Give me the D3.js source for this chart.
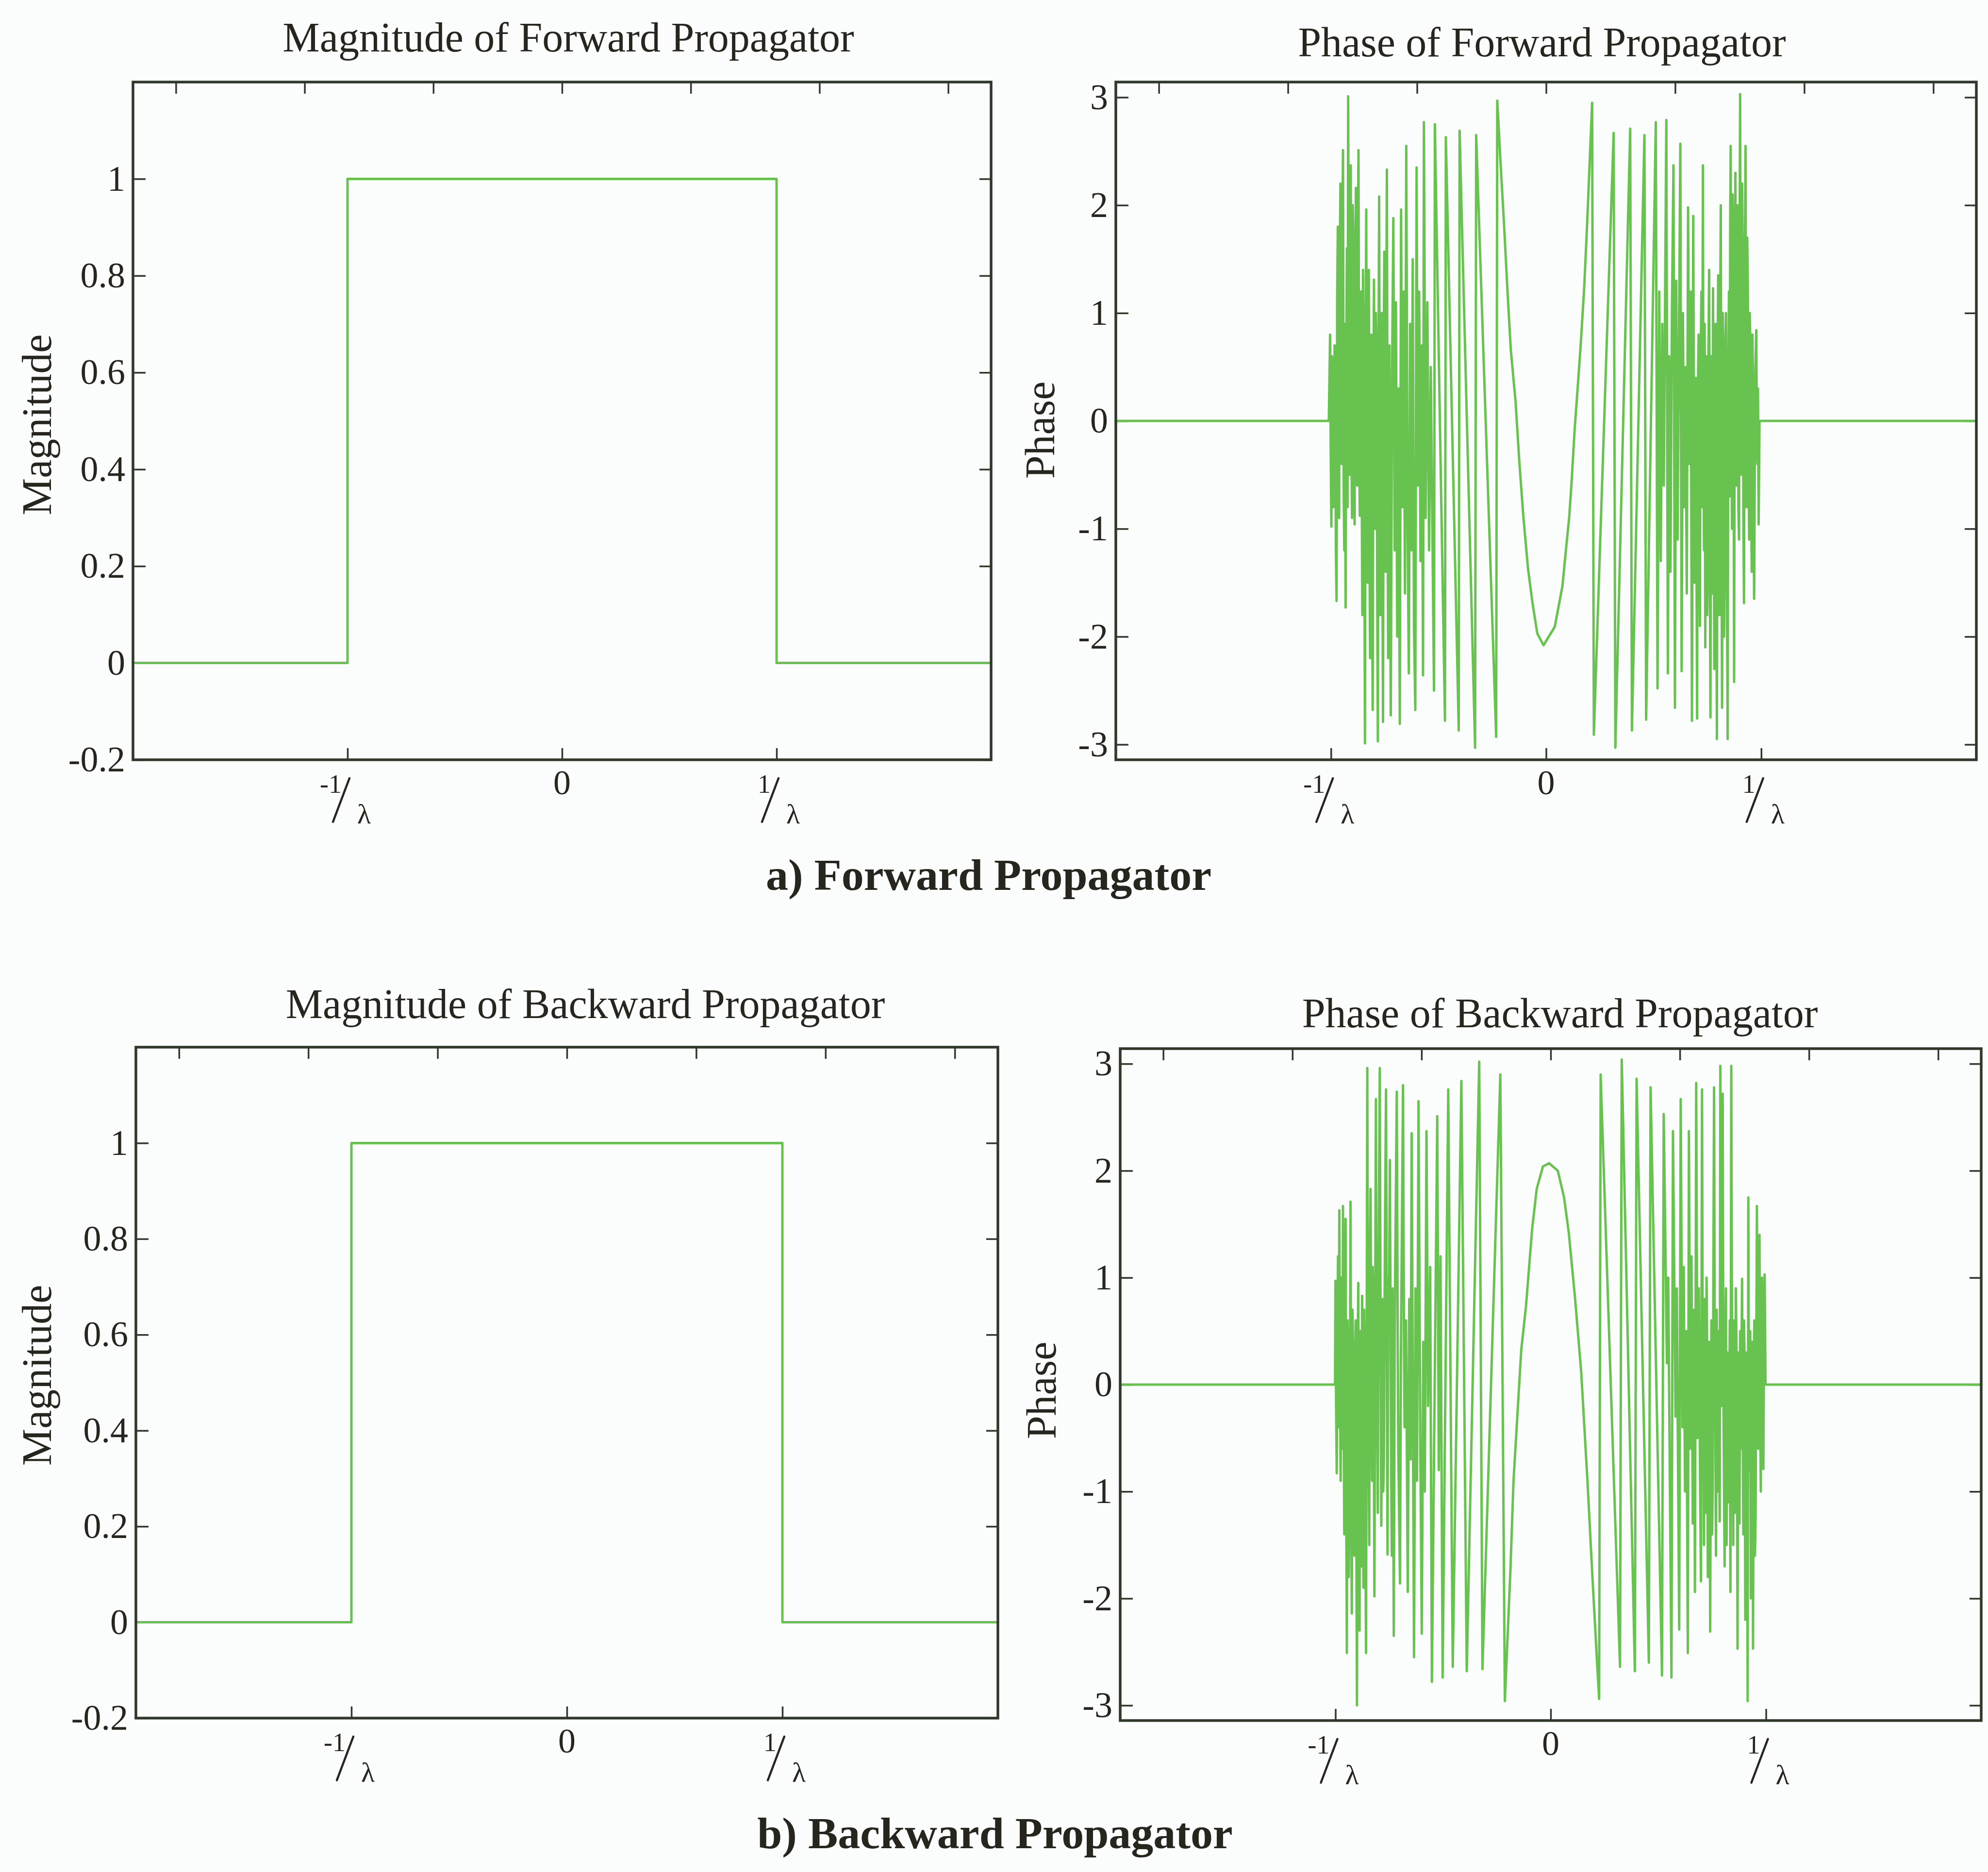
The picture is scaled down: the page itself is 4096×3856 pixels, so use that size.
<!DOCTYPE html>
<html>
<head>
<meta charset="utf-8">
<script src="https://cdn.jsdelivr.net/npm/d3@7/dist/d3.min.js"></script>
<style>
  html, body { margin: 0; padding: 0; background: #fbfcfc; }
  svg { display: block; }
  .frame { fill: none; stroke: #2f382a; stroke-width: 5.5; }
  .ticks line { stroke: #2f382a; stroke-width: 3.5; }
  .ticks path { display: none; }
  .trace { fill: none; stroke: #68c24f; stroke-width: 5; stroke-linejoin: round; stroke-linecap: round; }
  .slash { stroke: #26261f; stroke-width: 4.5; stroke-linecap: round; }
  text { font-family: "Liberation Serif", "Times New Roman", serif; fill: #26261f; }
</style>
</head>
<body>
<script>
// ---- data ----
var panelTitles = ['Magnitude of Forward Propagator', 'Phase of Forward Propagator',
                   'Magnitude of Backward Propagator', 'Phase of Backward Propagator'];
var captions = ['a) Forward Propagator', 'b) Backward Propagator'];

var xTicksBottom = [-1, 0, 1];
var xTickLabels = ['-1/λ', '0', '1/λ'];
var xTicksTop = [-1.8, -1.2, -0.6, 0, 0.6, 1.2, 1.8];
var magTicks = [-0.2, 0, 0.2, 0.4, 0.6, 0.8, 1];
var phaseTicks = [-3, -2, -1, 0, 1, 2, 3];

// magnitude: step, unity inside |f| < 1/lambda
var magFreq = [-2, -1, -1, 1, 1, 2];
var fwdMagnitude = [0, 0, 1, 1, 0, 0];
var bwdMagnitude = [0, 0, 1, 1, 0, 0];

// phase vertices [spatial frequency (units of 1/lambda), phase (rad)]
var fwdPhase = [
  [-2.000,0.00],[-1.010,0.00],
  [-1.004,0.80],[-1.001,-0.30],[-0.998,-0.98],[-0.995,0.60],[-0.992,0.40],[-0.989,-0.80],[-0.986,-0.60],
  [-0.983,0.70],[-0.980,0.20],[-0.977,-1.20],[-0.974,-1.67],[-0.971,1.20],[-0.968,1.80],[-0.965,-0.30],
  [-0.962,-0.90],[-0.959,1.50],[-0.956,2.20],[-0.953,0.20],[-0.950,-0.40],[-0.947,1.80],[-0.944,2.51],
  [-0.941,-0.60],[-0.938,-1.20],[-0.935,0.90],[-0.932,-1.73],[-0.929,0.40],[-0.926,1.60],[-0.923,-0.80],
  [-0.920,3.01],[-0.917,0.80],[-0.914,-0.50],[-0.911,1.40],[-0.908,2.37],[-0.905,-0.20],[-0.902,-0.90],
  [-0.899,2.00],[-0.896,1.70],[-0.893,-0.40],[-0.890,-0.96],[-0.887,1.20],[-0.884,2.16],[-0.881,0.30],
  [-0.878,-0.60],[-0.875,1.60],[-0.872,2.51],[-0.869,-0.20],[-0.866,-0.88],[-0.863,0.60],[-0.860,1.20],
  [-0.857,-0.60],[-0.854,-1.80],[-0.851,1.40],[-0.848,0.90],[-0.845,-1.00],[-0.842,-2.99],[-0.839,0.20],
  [-0.836,1.96],[-0.833,-0.40],[-0.830,-1.50],[-0.827,0.50],[-0.824,1.40],[-0.821,-1.10],[-0.818,-2.20],
  [-0.815,0.30],[-0.812,0.80],[-0.809,-1.60],[-0.806,-2.68],[-0.803,0.10],[-0.800,1.31],[-0.797,-0.30],
  [-0.794,-1.00],[-0.791,1.00],[-0.788,0.60],[-0.785,-1.50],[-0.782,-2.97],[-0.779,0.40],[-0.776,2.08],
  [-0.773,-0.50],[-0.770,-1.80],[-0.767,0.20],[-0.764,1.00],[-0.761,-1.20],[-0.758,-2.79],[-0.755,0.60],
  [-0.752,1.57],[-0.749,-0.20],[-0.746,-1.40],[-0.743,0.80],[-0.740,2.33],[-0.737,-0.60],[-0.734,-2.20],
  [-0.731,0.10],[-0.728,0.70],[-0.725,-1.30],
  [-0.722,-2.73],[-0.716,0.40],[-0.710,1.88],[-0.704,-1.20],[-0.698,1.10],[-0.692,-2.00],
  [-0.686,0.30],[-0.680,-2.81],[-0.674,1.96],[-0.668,-0.80],[-0.662,1.20],[-0.656,-1.60],[-0.650,2.55],
  [-0.644,-0.90],[-0.638,-2.34],[-0.632,0.90],[-0.626,-1.20],[-0.620,1.50],[-0.614,-1.90],[-0.608,-2.68],
  [-0.602,2.35],[-0.596,-0.60],[-0.590,1.20],[-0.584,-1.30],[-0.578,0.70],[-0.572,-2.36],[-0.568,2.77],
  [-0.560,-0.90],[-0.552,1.10],[-0.544,-1.20],[-0.536,0.50],[-0.521,-2.50],[-0.517,2.75],
  [-0.470,-2.78],[-0.466,2.63],[-0.406,-2.87],[-0.402,2.69],[-0.330,-3.03],[-0.325,2.65],
  [-0.232,-2.93],[-0.227,2.97],
  [-0.211,2.37],[-0.196,1.84],[-0.178,1.15],[-0.164,0.66],[-0.142,0.18],[-0.124,-0.39],[-0.106,-0.88],
  [-0.084,-1.37],[-0.063,-1.69],[-0.041,-1.97],[-0.012,-2.08],
  [0.040,-1.91],[0.061,-1.69],[0.076,-1.53],[0.090,-1.24],[0.108,-0.88],[0.119,-0.55],[0.133,-0.07],
  [0.148,0.34],[0.162,0.74],[0.177,1.23],[0.191,1.84],[0.202,2.37],[0.214,2.95],
  [0.222,-2.91],[0.314,2.67],[0.322,-3.03],[0.391,2.71],[0.399,-2.87],[0.457,2.65],[0.465,-2.77],
  [0.510,2.77],[0.518,-2.48],
  [0.526,1.20],[0.533,-1.30],[0.540,0.90],[0.547,-0.60],[0.559,2.79],[0.566,-2.34],[0.572,0.60],
  [0.578,-1.40],[0.585,1.00],[0.592,2.37],[0.599,-2.66],[0.605,1.30],[0.611,-1.10],[0.617,0.50],
  [0.624,2.57],[0.630,-2.32],[0.636,1.00],[0.642,-0.80],[0.648,0.50],[0.654,-1.60],[0.660,1.98],
  [0.666,-0.40],[0.672,1.20],[0.678,-2.78],[0.684,1.90],[0.690,-1.50],[0.696,0.40],
  [0.702,-2.76],[0.705,0.20],[0.709,0.80],[0.712,-0.60],[0.715,-1.90],[0.718,0.40],[0.722,1.20],
  [0.725,-0.80],[0.729,2.37],[0.731,0.00],[0.734,-1.20],[0.737,0.90],[0.740,-2.10],[0.743,-0.40],
  [0.746,0.60],[0.749,-1.80],[0.752,-1.40],[0.755,0.70],[0.758,1.40],[0.761,-1.00],[0.764,-2.75],
  [0.767,0.60],[0.770,0.20],[0.773,-1.60],[0.776,1.23],[0.779,-0.30],[0.782,-2.30],[0.785,0.30],
  [0.788,0.90],[0.791,-1.20],[0.794,-2.95],[0.797,0.50],[0.800,1.35],[0.803,-0.60],[0.806,-1.80],
  [0.809,0.80],[0.812,2.00],[0.815,-0.90],[0.818,-2.66],[0.821,1.00],[0.824,0.40],[0.827,-2.00],
  [0.830,-1.50],[0.833,0.70],[0.836,1.00],[0.840,-1.20],
  [0.844,-2.95],[0.847,0.40],[0.850,1.20],[0.853,-0.70],[0.856,1.90],[0.858,2.55],[0.861,0.20],
  [0.864,-1.00],[0.867,2.10],[0.870,1.60],[0.872,-0.30],[0.874,-2.42],[0.877,1.00],[0.880,2.30],
  [0.883,0.50],[0.886,-0.60],[0.889,2.00],[0.892,1.80],[0.894,-0.80],[0.897,-1.10],[0.899,1.40],
  [0.902,3.03],[0.905,0.30],[0.908,-0.50],[0.911,2.20],[0.914,1.60],[0.917,-0.90],[0.920,-1.69],
  [0.923,1.00],[0.927,2.55],[0.929,0.10],[0.932,-0.80],[0.935,1.70],[0.938,1.20],[0.941,-0.40],
  [0.944,-1.10],[0.947,1.00],[0.950,0.60],[0.953,-0.70],[0.956,-1.40],[0.959,0.80],[0.962,0.30],
  [0.965,-0.90],[0.967,-1.65],[0.972,0.40],[0.977,0.84],[0.980,-0.20],[0.982,-0.40],[0.985,0.30],
  [0.988,-0.96],[0.992,0.00],[2.000,0.00]
];

var bwdPhase = [
  [-2.000,0.00],[-1.002,0.00],
  [-1.000,0.97],[-0.997,-0.20],[-0.994,-0.83],[-0.991,0.50],[-0.988,1.20],[-0.985,-0.40],[-0.982,1.63],
  [-0.979,0.10],[-0.976,-0.90],[-0.973,1.00],[-0.970,0.40],[-0.967,-0.60],[-0.965,1.67],[-0.962,-0.20],
  [-0.959,-1.40],[-0.956,0.70],[-0.953,1.55],[-0.950,-1.00],[-0.947,-2.51],[-0.944,0.60],[-0.941,0.20],
  [-0.938,-1.80],[-0.935,-1.20],[-0.932,0.40],[-0.930,1.71],[-0.927,-0.60],[-0.924,-2.14],[-0.921,0.70],
  [-0.918,0.30],[-0.915,-1.10],[-0.912,-1.60],[-0.909,0.10],[-0.906,0.60],[-0.903,-1.40],[-0.900,-3.00],
  [-0.897,0.20],[-0.894,0.95],[-0.891,-0.90],[-0.888,-2.30],[-0.885,0.50],[-0.882,-0.40],[-0.879,-1.70],
  [-0.876,0.83],[-0.873,-0.50],[-0.870,-1.90],[-0.867,0.70],[-0.864,0.20],[-0.861,-1.30],[-0.858,-2.51],
  [-0.852,2.96],[-0.849,0.20],[-0.846,-0.60],[-0.843,-1.50],[-0.840,1.20],[-0.837,1.83],[-0.833,-0.30],
  [-0.830,-0.90],[-0.827,1.10],[-0.824,0.70],[-0.821,-0.80],[-0.819,-1.98],[-0.815,0.90],[-0.812,2.67],
  [-0.809,0.10],[-0.806,-0.50],[-0.803,-1.20],[-0.800,1.00],[-0.794,2.96],[-0.790,0.20],[-0.787,-1.32],
  [-0.784,0.30],[-0.781,0.80],[-0.778,-1.00],[-0.775,-0.70],[-0.770,1.40],[-0.765,2.76],[-0.761,0.00],
  [-0.758,-1.59],[-0.755,1.00],[-0.752,0.50],[-0.747,2.10],[-0.744,0.30],[-0.741,-0.80],[-0.738,-1.60],
  [-0.735,0.90],[-0.729,-2.35],[-0.725,0.40],[-0.722,1.20],[-0.715,2.74],[-0.711,0.50],[-0.708,-0.60],
  [-0.700,-1.86],[-0.696,0.20],[-0.693,1.00],[-0.686,2.80],[-0.682,0.60],[-0.679,-0.40],[-0.672,0.60],
  [-0.664,-1.94],[-0.657,0.80],[-0.651,-0.70],[-0.646,2.35],[-0.640,-0.30],[-0.635,-2.55],[-0.628,0.90],
  [-0.621,-0.90],[-0.614,2.65],[-0.606,-0.50],[-0.599,-2.33],[-0.592,0.40],[-0.585,-1.00],[-0.577,2.37],
  [-0.570,-0.20],[-0.560,1.10],[-0.552,-2.78],[-0.527,2.51],[-0.520,-0.80],[-0.512,1.20],[-0.502,-2.74],
  [-0.476,2.76],[-0.455,-2.64],[-0.415,2.84],[-0.390,-2.68],[-0.332,3.02],[-0.317,-2.66],[-0.234,2.90],
  [-0.213,-2.96],
  [-0.187,-1.73],[-0.173,-0.91],[-0.137,0.32],[-0.115,0.73],[-0.086,1.46],[-0.065,1.83],[-0.036,2.04],
  [-0.007,2.07],
  [0.033,2.00],[0.062,1.75],[0.084,1.42],[0.113,0.81],[0.142,0.11],[0.171,-0.91],[0.192,-1.73],
  [0.214,-2.55],[0.225,-2.94],
  [0.232,2.90],[0.322,-2.64],[0.330,3.04],[0.391,-2.68],[0.399,2.86],[0.456,-2.60],[0.464,2.78],
  [0.517,-2.72],[0.525,2.53],[0.540,0.20],[0.546,1.00],[0.561,-2.74],[0.568,2.37],[0.580,-0.30],
  [0.586,0.90],[0.597,-2.29],[0.604,2.67],[0.612,-0.40],[0.618,1.10],[0.624,-1.00],[0.630,0.50],
  [0.637,-2.51],[0.642,2.37],[0.648,-0.60],[0.654,1.20],[0.660,-1.30],[0.666,0.70],[0.670,-1.94],
  [0.676,2.82],[0.682,-0.50],[0.688,0.90],[0.694,-0.90],[0.698,-1.84],
  [0.703,2.76],[0.706,0.40],[0.709,-0.30],[0.712,-1.50],[0.715,0.80],[0.718,0.10],[0.721,-1.20],
  [0.724,1.00],[0.727,0.30],[0.730,-1.80],[0.733,-0.60],[0.737,0.40],[0.741,-2.31],[0.744,-0.20],
  [0.747,0.60],[0.750,-1.40],[0.753,-0.80],[0.756,1.20],[0.759,2.78],[0.762,0.20],[0.765,-0.40],
  [0.768,-1.60],[0.771,0.70],[0.774,0.00],[0.777,-1.00],[0.781,0.50],[0.785,-1.28],[0.788,2.98],
  [0.791,0.40],[0.794,-0.20],[0.799,2.72],[0.802,0.00],[0.805,-0.90],[0.808,-1.70],[0.811,0.50],
  [0.814,0.90],[0.817,-1.50],[0.820,-0.40],[0.823,0.30],[0.826,-1.10],[0.829,-0.70],[0.832,0.60],
  [0.835,-1.94],[0.839,2.98],[0.842,0.50],[0.845,-0.30],[0.848,-1.50],[0.851,0.60],[0.854,0.20],
  [0.857,-1.20],[0.860,0.90],[0.863,0.40],[0.866,-1.00],[0.868,-2.47],[0.871,0.30],[0.874,-0.20],
  [0.877,-1.30],[0.880,0.50],[0.884,-0.60],[0.889,0.99],[0.892,-0.40],[0.895,-1.40],[0.898,0.60],
  [0.901,0.20],[0.904,-2.20],[0.907,-1.80],[0.911,0.30],[0.915,-2.96],[0.918,1.75],[0.921,-0.20],
  [0.924,-0.80],[0.927,0.50],[0.930,-2.00],[0.933,-0.50],[0.936,0.40],[0.940,-2.47],[0.943,0.20],
  [0.946,0.60],[0.949,-1.60],[0.952,-1.20],[0.955,0.30],[0.958,1.67],[0.961,-0.30],[0.964,-0.60],
  [0.967,0.90],[0.970,1.40],[0.973,-0.20],[0.976,-1.00],[0.979,0.50],[0.982,1.00],[0.985,-0.30],
  [0.988,-0.79],[0.991,0.40],[0.994,1.03],[0.998,0.00],[2.000,0.00]
];

// ---- layout ----
var W = 4096, H = 3856;
var tickLen = 24;

var svg = d3.select('body').append('svg')
    .attr('width', W)
    .attr('height', H);

svg.append('rect').attr('width', W).attr('height', H).attr('fill', '#fbfcfc');

var panels = [
  { title: panelTitles[0], tx: 1171, ty: 106, ylab: 'Magnitude', ylx: 105, yly: 875,
    left: 274, right: 2042, top: 169, bottom: 1565, yDomain: [-0.2, 1.2], yTicks: magTicks,
    data: d3.zip(magFreq, fwdMagnitude) },
  { title: panelTitles[1], tx: 3177, ty: 116, ylab: 'Phase', ylx: 2172, yly: 886,
    left: 2299, right: 4072, top: 169, bottom: 1565, yDomain: [-Math.PI, Math.PI], yTicks: phaseTicks,
    data: fwdPhase },
  { title: panelTitles[2], tx: 1206, ty: 2097, ylab: 'Magnitude', ylx: 105, yly: 2833,
    left: 280, right: 2056, top: 2157, bottom: 3539, yDomain: [-0.2, 1.2], yTicks: magTicks,
    data: d3.zip(magFreq, bwdMagnitude) },
  { title: panelTitles[3], tx: 3214, ty: 2116, ylab: 'Phase', ylx: 2175, yly: 2864,
    left: 2308, right: 4082, top: 2160, bottom: 3544, yDomain: [-Math.PI, Math.PI], yTicks: phaseTicks,
    data: bwdPhase }
];

function fmt(d) {
  return d === 0 ? '0' : String(+d.toFixed(1));
}

panels.forEach(function(p) {
  var g = svg.append('g');

  var x = d3.scaleLinear().domain([-2, 2]).range([p.left, p.right]);
  var y = d3.scaleLinear().domain(p.yDomain).range([p.bottom, p.top]);

  // ticks, all pointing inwards
  g.append('g').attr('class', 'ticks')
    .attr('transform', 'translate(0,' + p.bottom + ')')
    .call(d3.axisBottom(x).tickValues(xTicksBottom).tickSize(-tickLen).tickSizeOuter(0).tickFormat(''));
  g.append('g').attr('class', 'ticks')
    .attr('transform', 'translate(0,' + p.top + ')')
    .call(d3.axisTop(x).tickValues(xTicksTop).tickSize(-tickLen).tickSizeOuter(0).tickFormat(''));
  g.append('g').attr('class', 'ticks')
    .attr('transform', 'translate(' + p.right + ',0)')
    .call(d3.axisRight(y).tickValues(p.yTicks).tickSize(-tickLen).tickSizeOuter(0).tickFormat(''));

  var yAxis = g.append('g').attr('class', 'ticks')
    .attr('transform', 'translate(' + p.left + ',0)')
    .call(d3.axisLeft(y).tickValues(p.yTicks).tickSize(-26).tickSizeOuter(0).tickPadding(16).tickFormat(fmt));
  yAxis.attr('font-family', null).attr('font-size', null);
  yAxis.selectAll('text').style('font-size', '74px').attr('fill', '#26261f');

  // trace
  g.append('path')
    .datum(p.data)
    .attr('class', 'trace')
    .attr('d', d3.line().x(function(d) { return x(d[0]); }).y(function(d) { return y(d[1]); }));

  // frame
  g.append('rect').attr('class', 'frame')
    .attr('x', p.left).attr('y', p.top)
    .attr('width', p.right - p.left).attr('height', p.bottom - p.top);

  // bottom tick labels: 0 and the 1/lambda slashed fractions
  xTicksBottom.forEach(function(t, i) {
    var lab = xTickLabels[i];
    var cx = x(t), by = p.bottom;
    if (lab.indexOf('/') < 0) {
      g.append('text').attr('x', cx).attr('y', by + 71).attr('text-anchor', 'middle')
        .style('font-size', '72px').text(lab);
      return;
    }
    var parts = lab.split('/');
    // numerator (with its sign) up-left, denominator down-right, slash between
    g.append('text').attr('x', cx - 12).attr('y', by + 68).attr('text-anchor', 'end')
      .style('font-size', '54px').text(parts[0]);
    g.append('line').attr('class', 'slash')
      .attr('x1', cx + 4).attr('y1', by + 38)
      .attr('x2', cx - 30).attr('y2', by + 128);
    g.append('text').attr('x', cx + 20).attr('y', by + 131).attr('text-anchor', 'start')
      .style('font-size', '58px').text(parts[1]);
  });

  // title and axis label
  g.append('text').attr('x', p.tx).attr('y', p.ty).attr('text-anchor', 'middle')
    .style('font-size', '86px').text(p.title);
  g.append('text')
    .attr('transform', 'translate(' + p.ylx + ',' + p.yly + ') rotate(-90)')
    .attr('text-anchor', 'middle')
    .style('font-size', '86px').text(p.ylab);
});

// figure captions
svg.append('text').attr('x', 2037).attr('y', 1833).attr('text-anchor', 'middle')
  .style('font-size', '92px').style('font-weight', 'bold').text(captions[0]);
svg.append('text').attr('x', 2050).attr('y', 3807).attr('text-anchor', 'middle')
  .style('font-size', '92px').style('font-weight', 'bold').text(captions[1]);
</script>
</body>
</html>
